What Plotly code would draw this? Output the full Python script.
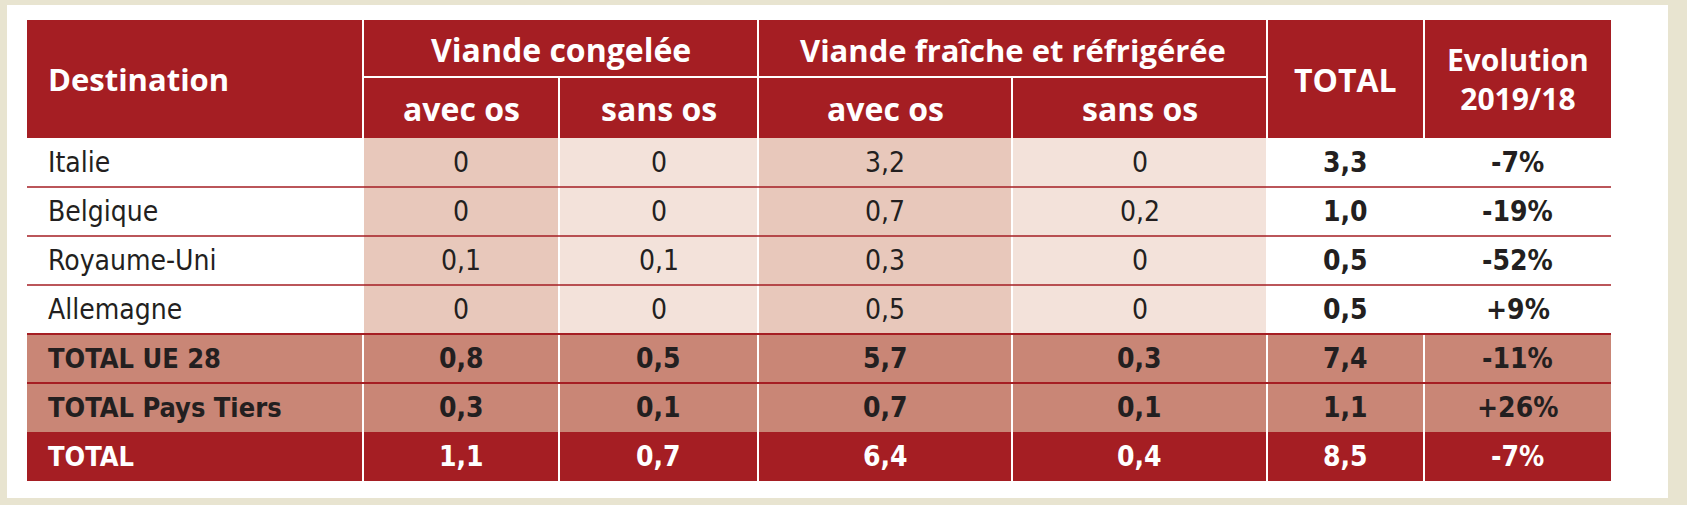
import plotly.graph_objects as go

# table data (tonnes, thousands)
destinations = ["Italie", "Belgique", "Royaume-Uni", "Allemagne",
                "TOTAL UE 28", "TOTAL Pays Tiers", "TOTAL"]
congelee_avec = [0, 0, 0.1, 0, 0.8, 0.3, 1.1]
congelee_sans = [0, 0, 0.1, 0, 0.5, 0.1, 0.7]
fraiche_avec = [3.2, 0.7, 0.3, 0.5, 5.7, 0.7, 6.4]
fraiche_sans = [0, 0.2, 0, 0, 0.3, 0.1, 0.4]
totals = [3.3, 1.0, 0.5, 0.5, 7.4, 1.1, 8.5]
evolution = [-7, -19, -52, 9, -11, 26, -7]

group_headers = ["Viande congelée", "Viande fraîche et réfrigérée"]
sub_headers = ["avec os", "sans os", "avec os", "sans os"]

# layout (pixels)
W, H = 1687, 505
col_edges = [27, 363, 559, 758, 1012, 1267, 1424, 1611]
top, mid, hdr_bottom, row_h = 20, 77, 138, 49

RED = "#A51E23"
DARK_PINK = "#E8C8BB"
LIGHT_PINK = "#F3E2DA"
TOTAL_PINK = "#C98676"
BEIGE = "#E8E4D0"
TXT = "#231F20"

HEAD_FONT = "Open Sans"
BODY_FONT = "DejaVu Sans Condensed"


def fmt(v):
    return "0" if v == 0 else f"{v:.1f}".replace(".", ",")


fig = go.Figure()
shapes = []
ann = []

# white panel
shapes.append(dict(type="rect", x0=7, x1=1668, y0=5, y1=498,
                   fillcolor="white", line=dict(width=0), layer="below"))

# header background
shapes.append(dict(type="rect", x0=col_edges[0], x1=col_edges[-1], y0=top, y1=hdr_bottom,
                   fillcolor=RED, line=dict(width=0), layer="below"))

n_rows = len(destinations)
row_top = [hdr_bottom + i * row_h for i in range(n_rows)]
data_fill = ["white", DARK_PINK, LIGHT_PINK, DARK_PINK, LIGHT_PINK, "white", "white"]

for i in range(n_rows):
    y0, y1 = row_top[i], row_top[i] + row_h
    for j in range(len(col_edges) - 1):
        if i < 4:
            c = data_fill[j]
        elif i < 6:
            c = TOTAL_PINK
        else:
            c = RED
        shapes.append(dict(type="rect", x0=col_edges[j], x1=col_edges[j + 1], y0=y0, y1=y1,
                           fillcolor=c, line=dict(width=0), layer="below"))

table_bottom = row_top[-1] + row_h

# white vertical separators
for k in range(1, len(col_edges) - 1):
    ystart = mid if k in (2, 4) else top
    shapes.append(dict(type="line", x0=col_edges[k], x1=col_edges[k], y0=ystart, y1=table_bottom,
                       line=dict(color="white", width=2)))
# white line under group headers
shapes.append(dict(type="line", x0=col_edges[1], x1=col_edges[5], y0=mid, y1=mid,
                   line=dict(color="white", width=2)))
# red row separators
for i in range(1, 6):
    shapes.append(dict(type="line", x0=col_edges[0], x1=col_edges[-1], y0=row_top[i], y1=row_top[i],
                       line=dict(color=RED, width=2 if i >= 4 else 1.5)))


def cx(j):
    return (col_edges[j] + col_edges[j + 1]) / 2


def add_text(x, y, text, size, family, color, bold=False, xanchor="center"):
    ann.append(dict(x=x, y=y, text=text, showarrow=False, xanchor=xanchor, yanchor="middle",
                    font=dict(size=size, family=family, color=color,
                              weight="bold" if bold else "normal")))


# headers
add_text(46, (top + hdr_bottom) / 2, "Destination", 31, HEAD_FONT, "white", True, "left")
add_text((col_edges[1] + col_edges[3]) / 2, (top + mid) / 2 + 1, group_headers[0], 32, HEAD_FONT, "white", True)
add_text((col_edges[3] + col_edges[5]) / 2, (top + mid) / 2 + 1, group_headers[1], 31, HEAD_FONT, "white", True)
for j, s in enumerate(sub_headers):
    add_text(cx(j + 1), (mid + hdr_bottom) / 2 + 1, s, 32, HEAD_FONT, "white", True)
add_text(cx(5), (top + hdr_bottom) / 2, "TOTAL", 32, HEAD_FONT, "white", True)
add_text(cx(6), (top + hdr_bottom) / 2, "Evolution<br>2019/18", 30, HEAD_FONT, "white", True)

# body
columns = [congelee_avec, congelee_sans, fraiche_avec, fraiche_sans]
for i in range(n_rows):
    yc = row_top[i] + row_h / 2
    is_total = i >= 4
    color = "white" if i == n_rows - 1 else TXT
    size = 27 if is_total else 28
    add_text(46, yc, destinations[i], size, BODY_FONT, color, is_total, "left")
    for j, col in enumerate(columns):
        add_text(cx(j + 1), yc, fmt(col[i]), 28, BODY_FONT, color, is_total)
    add_text(cx(5), yc, f"{totals[i]:.1f}".replace(".", ","), 28, BODY_FONT, color, True)
    add_text(cx(6), yc, f"{evolution[i]:+d}%", 28, BODY_FONT, color, True)

fig.update_layout(
    width=W, height=H,
    margin=dict(l=0, r=0, t=0, b=0),
    paper_bgcolor=BEIGE, plot_bgcolor=BEIGE,
    shapes=shapes, annotations=ann,
    showlegend=False,
    xaxis=dict(range=[0, W], visible=False, fixedrange=True),
    yaxis=dict(range=[H, 0], visible=False, fixedrange=True),
)

fig.write_html("out.html", config={"displayModeBar": False},
               post_script="document.body.style.margin='0';document.body.style.overflow='hidden';")
